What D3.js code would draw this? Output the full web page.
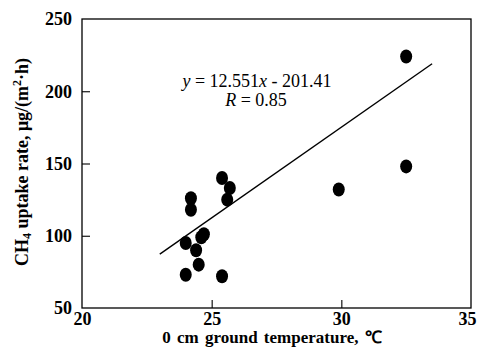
<!DOCTYPE html>
<html>
<head>
<meta charset="utf-8">
<script src="https://cdn.jsdelivr.net/npm/d3@7"></script>
<style>
  body { margin: 0; background: #fff; }
  svg { display: block; }
  text { font-family: "Liberation Serif", "Times New Roman", serif; fill: #000; }
</style>
</head>
<body>
<div id="chart"></div>
<script>
// soil temperature (C) and CH4 uptake rate readings
const temps  = [25.4, 25.7, 25.6, 24.2, 24.2, 24.6, 24.0, 24.4, 24.7, 24.5, 24.0, 25.4, 29.9, 32.5, 32.5];
const uptake = [140,  133,  125,  126,  118,  99,   95,   90,   101,  80,   73,   72,   132,  148,  224];
const xTicks = [20, 25, 30, 35];
const yTicks = [50, 100, 150, 200, 250];
const slope = 12.551, intercept = -201.41, fitRange = [23, 33.5];

const width = 478, height = 356;
const margin = {top: 19, right: 7, bottom: 48, left: 82};
const serif = '"Liberation Serif", "Times New Roman", serif';

const svg = d3.select('#chart').append('svg')
  .attr('width', width)
  .attr('height', height);

var x = d3.scaleLinear().domain([20, 35]).range([margin.left, width - margin.right]);
var y = d3.scaleLinear().domain([50, 250]).range([height - margin.bottom, margin.top]);

// frame
svg.append('rect')
  .attr('x', x(20)).attr('y', y(250))
  .attr('width', x(35) - x(20)).attr('height', y(50) - y(250))
  .attr('fill', 'none').attr('stroke', '#000').attr('stroke-width', 1.3);

// axes, ticks point inward
const xAxis = svg.append('g')
  .attr('transform', 'translate(0,' + y(50) + ')')
  .call(d3.axisBottom(x).tickValues(xTicks).tickSizeInner(-8).tickSizeOuter(0).tickPadding(4));
const yAxis = svg.append('g')
  .attr('transform', 'translate(' + x(20) + ',0)')
  .call(d3.axisLeft(y).tickValues(yTicks).tickSizeInner(-8).tickSizeOuter(0).tickPadding(10));

[xAxis, yAxis].forEach(g => {
  g.select('.domain').remove();
  g.selectAll('line').attr('stroke', '#000').attr('stroke-width', 1.1);
  g.selectAll('text')
    .style('font-family', serif)
    .attr('font-size', 18).attr('font-weight', 'bold').attr('fill', '#000');
});
// no tick marks on the frame corners
xAxis.selectAll('.tick').filter(d => d === 20 || d === 35).select('line').remove();
yAxis.selectAll('.tick').filter(d => d === 50 || d === 250).select('line').remove();
xAxis.selectAll('text').attr('dy', '0.71em');
// keep the last label inside the page
xAxis.selectAll('.tick').filter(d => d === 35).select('text').attr('dx', -4);

// regression line
var line = d3.line().x(d => x(d)).y(d => y(slope * d + intercept));
svg.append('path')
  .datum(fitRange)
  .attr('d', line)
  .attr('fill', 'none')
  .attr('stroke', '#000')
  .attr('stroke-width', 1.4);

// points
svg.append('g').selectAll('ellipse')
  .data(temps.map((t, i) => [t, uptake[i]]))
  .join('ellipse')
  .attr('cx', d => x(d[0]))
  .attr('cy', d => y(d[1]))
  .attr('rx', 6)
  .attr('ry', 7)
  .attr('fill', '#000');

// equation
const eq = svg.append('text')
  .attr('x', 257).attr('y', 87)
  .attr('text-anchor', 'middle')
  .style('font-family', serif)
  .attr('font-size', 18);
eq.append('tspan').attr('font-style', 'italic').text('y');
eq.append('tspan').text(' = 12.551');
eq.append('tspan').attr('font-style', 'italic').text('x');
eq.append('tspan').text(' - 201.41');

const rr = svg.append('text')
  .attr('x', 256).attr('y', 106)
  .attr('text-anchor', 'middle')
  .style('font-family', serif)
  .attr('font-size', 18);
rr.append('tspan').attr('font-style', 'italic').text('R');
rr.append('tspan').text(' = 0.85');

// axis titles
svg.append('text')
  .attr('x', 272).attr('y', 343)
  .attr('text-anchor', 'middle')
  .style('font-family', serif)
  .style('word-spacing', '2px')
  .attr('font-size', 17).attr('font-weight', 'bold')
  .text('0 cm ground temperature, \u2103');

const yl = svg.append('text')
  .attr('transform', 'translate(28,162) rotate(-90)')
  .attr('text-anchor', 'middle')
  .style('font-family', serif)
  .attr('font-size', 18).attr('font-weight', 'bold');
yl.append('tspan').text('CH');
yl.append('tspan').attr('font-size', 12).attr('dy', 3).text('4');
yl.append('tspan').attr('dy', -3).text(' uptake rate, \u03bcg/(m');
yl.append('tspan').attr('font-size', 12).attr('dy', -7).text('2');
yl.append('tspan').attr('dy', 7).text('\u00b7h)');
</script>
</body>
</html>
